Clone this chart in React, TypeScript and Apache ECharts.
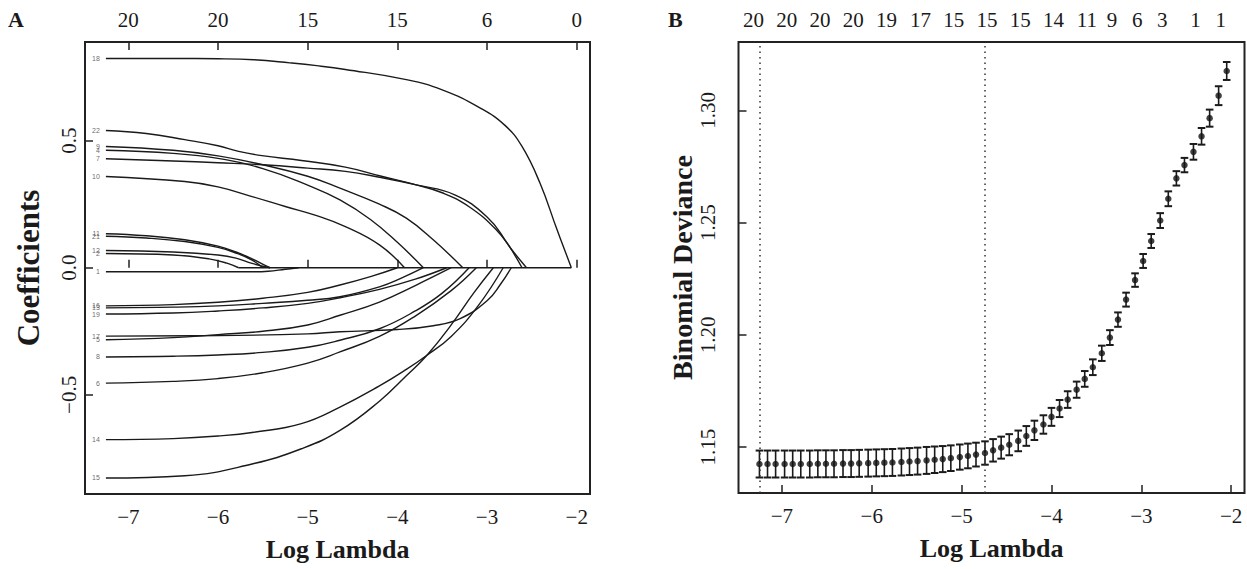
import React, { useEffect, useRef } from "react";
import * as echarts from "echarts";

// ---------- Panel B: cross-validation ----------
const logLambda = [
  -7.25, -7.16, -7.07, -6.97, -6.88, -6.79, -6.69, -6.6, -6.51, -6.42,
  -6.32, -6.23, -6.14, -6.04, -5.95, -5.86, -5.77, -5.67, -5.58, -5.49,
  -5.39, -5.3, -5.21, -5.12, -5.02, -4.93, -4.84, -4.74, -4.65, -4.56,
  -4.47, -4.37, -4.28, -4.19, -4.09, -4.0, -3.91, -3.82, -3.72, -3.63,
  -3.54, -3.44, -3.35, -3.26, -3.17, -3.07, -2.98, -2.89, -2.79, -2.7,
  -2.61, -2.52, -2.42, -2.33, -2.24, -2.14, -2.05,
];
const cvMean = [
  1.1425, 1.1425, 1.1425, 1.1425, 1.1425, 1.1425, 1.1425, 1.1426, 1.1426, 1.1426,
  1.1427, 1.1427, 1.1428, 1.1429, 1.143, 1.1431, 1.1432, 1.1434, 1.1436, 1.1438,
  1.1441, 1.1444, 1.1447, 1.1451, 1.1456, 1.1461, 1.1467, 1.1474, 1.1486, 1.1498,
  1.1511, 1.1528, 1.155, 1.1575, 1.1601, 1.1635, 1.1672, 1.1712, 1.1756, 1.1804,
  1.1856, 1.1918, 1.1988, 1.2068, 1.2157, 1.2244, 1.2329, 1.2418, 1.2509, 1.2606,
  1.2697, 1.2756, 1.2815, 1.2884, 1.2965, 1.3065, 1.3175,
];
const cvSd = [
  0.006, 0.006, 0.006, 0.006, 0.006, 0.006, 0.006, 0.006, 0.006, 0.006,
  0.006, 0.006, 0.006, 0.006, 0.006, 0.006, 0.006, 0.006, 0.006, 0.006,
  0.006, 0.0059, 0.0058, 0.0057, 0.0056, 0.0055, 0.0053, 0.0052, 0.005, 0.0049,
  0.0047, 0.0046, 0.0044, 0.0043, 0.0041, 0.004, 0.0038, 0.0037, 0.0036, 0.0035,
  0.0035, 0.0034, 0.0033, 0.0032, 0.0031, 0.003, 0.0031, 0.0031, 0.0033, 0.0033,
  0.0032, 0.0032, 0.0035, 0.0037, 0.0038, 0.0042, 0.004,
];
const nzeroIdx = [0, 4, 8, 12, 16, 20, 24, 28, 32, 36, 40, 43, 46, 49, 53, 56];
const nzeroLabels = ["20", "20", "20", "20", "19", "17", "15", "15", "15", "14", "11", "9", "6", "3", "1", "1"];
const lambdaMinIdx = 0;
const lambda1seIdx = 27;
const devTicks = [1.15, 1.2, 1.25, 1.3];

// ---------- Panel A: coefficient paths ----------
const xTicks = [-7, -6, -5, -4, -3, -2];
const pathTopLabels = ["20", "20", "15", "15", "6", "0"];
const coefTicks = [-0.5, 0, 0.5];
const lambdaEnd = -2.06;

const c18 = [[-7.25, 0.823], [-6.5, 0.823], [-6.0, 0.822], [-5.6, 0.818], [-5.2, 0.806], [-4.9, 0.795], [-4.58, 0.78], [-3.9, 0.74], [-3.5, 0.7], [-3.08, 0.629], [-2.8, 0.56], [-2.61, 0.477], [-2.41, 0.333], [-2.22, 0.15], [-2.06, 0]];
const c22 = [[-7.25, 0.54], [-6.8, 0.528], [-6.37, 0.504], [-6.0, 0.48], [-5.77, 0.458], [-5.51, 0.441], [-5.07, 0.422], [-4.58, 0.396], [-4.2, 0.362], [-3.79, 0.326], [-3.5, 0.295], [-3.2, 0.24], [-2.9, 0.15], [-2.7, 0.06], [-2.56, 0]];
const c9 = [[-7.25, 0.477], [-6.5, 0.462], [-6.0, 0.44], [-5.5, 0.405], [-5.0, 0.36], [-4.64, 0.313], [-4.2, 0.25], [-3.9, 0.195], [-3.6, 0.11], [-3.27, 0]];
const c4 = [[-7.25, 0.462], [-6.5, 0.45], [-6.0, 0.43], [-5.5, 0.39], [-5.0, 0.325], [-4.64, 0.267], [-4.3, 0.19], [-4.0, 0.1], [-3.71, 0]];
const c7 = [[-7.25, 0.429], [-6.5, 0.42], [-6.0, 0.413], [-5.5, 0.405], [-5.0, 0.392], [-4.58, 0.379], [-4.2, 0.356], [-3.79, 0.326], [-3.36, 0.287], [-3.0, 0.2], [-2.8, 0.11], [-2.61, 0]];
const c10 = [[-7.25, 0.359], [-6.37, 0.339], [-6.0, 0.318], [-5.62, 0.28], [-5.25, 0.241], [-4.9, 0.205], [-4.58, 0.162], [-4.2, 0.09], [-3.92, 0]];
const c11 = [[-7.25, 0.134], [-6.8, 0.126], [-6.37, 0.11], [-6.0, 0.085], [-5.8, 0.062], [-5.62, 0.035], [-5.48, 0.01], [-5.42, 0]];
const c21 = [[-7.25, 0.124], [-6.8, 0.117], [-6.37, 0.103], [-6.0, 0.08], [-5.8, 0.058], [-5.62, 0.03], [-5.5, 0]];
const c12 = [[-7.25, 0.068], [-6.5, 0.062], [-6.0, 0.05], [-5.8, 0.038], [-5.62, 0.017], [-5.42, 0]];
const c2 = [[-7.25, 0.056], [-6.5, 0.05], [-6.1, 0.035], [-5.9, 0.018], [-5.77, 0]];
const c1 = [[-7.25, -0.016], [-5.6, -0.016], [-5.44, -0.014], [-5.25, -0.006], [-5.1, 0]];
const c16 = [[-7.25, -0.15], [-6.5, -0.145], [-6.0, -0.136], [-5.5, -0.12], [-5.0, -0.097], [-4.64, -0.068], [-4.3, -0.035], [-4.0, 0]];
const c13 = [[-7.25, -0.158], [-6.5, -0.155], [-6.0, -0.15], [-5.5, -0.14], [-5.0, -0.128], [-4.64, -0.114], [-4.2, -0.075], [-3.95, -0.04], [-3.71, 0]];
const c19 = [[-7.25, -0.182], [-6.5, -0.178], [-6.0, -0.17], [-5.5, -0.158], [-5.0, -0.14], [-4.64, -0.118], [-4.2, -0.085], [-3.8, -0.045], [-3.45, 0]];
const c17 = [[-7.25, -0.269], [-6.0, -0.267], [-5.0, -0.26], [-4.64, -0.252], [-4.0, -0.243], [-3.6, -0.228], [-3.3, -0.2], [-3.0, -0.13], [-2.85, -0.065], [-2.73, 0]];
const c5 = [[-7.25, -0.283], [-6.5, -0.275], [-6.0, -0.263], [-5.5, -0.25], [-5.0, -0.225], [-4.64, -0.187], [-4.2, -0.135], [-3.8, -0.07], [-3.4, 0]];
const c8 = [[-7.25, -0.351], [-6.5, -0.348], [-6.0, -0.343], [-5.5, -0.333], [-5.0, -0.313], [-4.64, -0.285], [-4.2, -0.24], [-3.8, -0.17], [-3.5, -0.1], [-3.2, 0]];
const c6 = [[-7.25, -0.454], [-6.5, -0.447], [-6.0, -0.436], [-5.5, -0.413], [-5.0, -0.375], [-4.64, -0.331], [-4.2, -0.27], [-3.8, -0.19], [-3.4, -0.09], [-3.12, 0]];
const c14 = [[-7.25, -0.676], [-6.5, -0.672], [-6.0, -0.662], [-5.6, -0.647], [-5.07, -0.613], [-4.64, -0.548], [-4.2, -0.465], [-3.9, -0.4], [-3.67, -0.344], [-3.4, -0.27], [-3.1, -0.15], [-2.82, 0]];
const c15 = [[-7.25, -0.827], [-6.37, -0.818], [-5.62, -0.772], [-5.07, -0.712], [-4.64, -0.64], [-4.2, -0.525], [-3.9, -0.425], [-3.67, -0.344], [-3.4, -0.225], [-3.15, -0.1], [-2.93, 0]];

const paths: [string, number[][]][] = [
  ["18", c18], ["22", c22], ["9", c9], ["4", c4], ["7", c7], ["10", c10],
  ["11", c11], ["21", c21], ["12", c12], ["2", c2], ["1", c1],
  ["16", c16], ["13", c13], ["19", c19], ["17", c17], ["5", c5],
  ["8", c8], ["6", c6], ["14", c14], ["15", c15],
];

const SERIF = "'Liberation Serif', 'DejaVu Serif', serif";
const INK = "#1a1a1a";
const minus = (s: string) => s.replace("-", "\u2212");

export default function App() {
  const ref = useRef<HTMLDivElement>(null);
  useEffect(() => {
    if (!ref.current) return;
    const chart = echarts.init(ref.current, null, { renderer: "svg" });
    const xMin = -7.483;
    const xMax = -1.852;
    const tickLabel = { fontFamily: SERIF, fontSize: 21, color: INK };

    // each path is drawn (smoothly) until it reaches zero; the shared zero
    // segment afterwards is drawn once, from the first zero-crossing to the end
    const firstZero = Math.min(...paths.map(([, pts]) => pts[pts.length - 1][0]));
    const pathSeries: any[] = paths.map(([name, pts]) => ({
      type: "line",
      name: "V" + name,
      xAxisIndex: 0,
      yAxisIndex: 0,
      data: pts,
      showSymbol: false,
      smooth: 0.45,
      lineStyle: { color: INK, width: 1.4 },
      silent: true,
      z: 3,
    }));
    const zeroSeries = {
      type: "line",
      name: "zero",
      xAxisIndex: 0,
      yAxisIndex: 0,
      data: [[firstZero, 0], [lambdaEnd, 0]],
      showSymbol: false,
      lineStyle: { color: INK, width: 1.5 },
      silent: true,
      z: 3,
    };
    const labelSeries = {
      type: "scatter",
      xAxisIndex: 0,
      yAxisIndex: 0,
      symbolSize: 0,
      silent: true,
      data: paths.map(([name, pts]) => [pts[0][0], pts[0][1], name]),
      label: {
        show: true,
        position: "left",
        distance: 6,
        formatter: (p: any) => p.value[2],
        fontSize: 7,
        color: "#444",
        fontFamily: "'Liberation Sans', Arial, sans-serif",
      },
    };

    const barData = logLambda.map((x, i) => [x, cvMean[i] - cvSd[i], cvMean[i] + cvSd[i]]);
    const pointData = logLambda.map((x, i) => [x, cvMean[i]]);

    const option: any = {
      animation: false,
      backgroundColor: "#ffffff",
      grid: [
        { left: 85, top: 42, width: 505, height: 452, show: true, borderColor: "#222", borderWidth: 2 },
        { left: 738.5, top: 42, width: 506, height: 451, show: true, borderColor: "#222", borderWidth: 2 },
      ],
      xAxis: [
        {
          gridIndex: 0, type: "value", min: xMin, max: xMax, position: "bottom",
          axisLine: { show: false }, splitLine: { show: false },
          axisTick: { show: true, inside: true, length: 8, customValues: xTicks, lineStyle: { color: "#222", width: 1.5 } },
          axisLabel: { customValues: xTicks, margin: 12, formatter: (v: number) => minus(String(Math.round(v))), ...tickLabel },
          name: "Log Lambda", nameLocation: "middle", nameGap: 42,
          nameTextStyle: { fontFamily: SERIF, fontWeight: "bold", fontSize: 26, color: INK },
        },
        {
          gridIndex: 0, type: "value", min: xMin, max: xMax, position: "top",
          axisLine: { show: false }, splitLine: { show: false },
          axisTick: { show: true, inside: true, length: 8, customValues: xTicks, lineStyle: { color: "#222", width: 1.5 } },
          axisLabel: {
            customValues: xTicks, margin: 12,
            formatter: (v: number) => pathTopLabels[xTicks.indexOf(Math.round(v))] ?? "",
            ...tickLabel,
          },
        },
        {
          gridIndex: 1, type: "value", min: xMin, max: xMax, position: "bottom",
          axisLine: { show: false }, splitLine: { show: false },
          axisTick: { show: true, inside: true, length: 8, customValues: xTicks, lineStyle: { color: "#222", width: 1.5 } },
          axisLabel: { customValues: xTicks, margin: 12, formatter: (v: number) => minus(String(Math.round(v))), ...tickLabel },
          name: "Log Lambda", nameLocation: "middle", nameGap: 42,
          nameTextStyle: { fontFamily: SERIF, fontWeight: "bold", fontSize: 26, color: INK },
        },
        {
          gridIndex: 1, type: "value", min: xMin, max: xMax, position: "top",
          axisLine: { show: false }, splitLine: { show: false },
          axisTick: { show: false },
          axisLabel: {
            customValues: nzeroIdx.map((i) => logLambda[i]), margin: 12,
            padding: [0, 12, 0, 0],
            formatter: (v: number) => {
              const k = nzeroIdx.findIndex((i) => Math.abs(logLambda[i] - v) < 1e-6);
              return k >= 0 ? nzeroLabels[k] : "";
            },
            ...tickLabel,
          },
        },
      ],
      yAxis: [
        {
          gridIndex: 0, type: "value", min: -0.89, max: 0.888,
          axisLine: { show: false }, splitLine: { show: false },
          axisTick: { show: true, inside: true, length: 8, customValues: coefTicks, lineStyle: { color: "#222", width: 1.5 } },
          axisLabel: {
            customValues: coefTicks, rotate: 90, margin: 6,
            formatter: (v: number) => minus(v.toFixed(1)),
            ...tickLabel,
          },
          name: "Coefficients", nameLocation: "middle", nameGap: 41,
          nameTextStyle: { fontFamily: SERIF, fontWeight: "bold", fontSize: 31, color: INK },
        },
        {
          gridIndex: 1, type: "value", min: 1.1296, max: 1.3304,
          axisLine: { show: false }, splitLine: { show: false },
          axisTick: { show: true, inside: true, length: 8, customValues: devTicks, lineStyle: { color: "#222", width: 1.5 } },
          axisLabel: {
            customValues: devTicks, rotate: 90, margin: 20,
            formatter: (v: number) => v.toFixed(2),
            ...tickLabel,
          },
          name: "Binomial Deviance", nameLocation: "middle", nameGap: 41,
          nameTextStyle: { fontFamily: SERIF, fontWeight: "bold", fontSize: 28, color: INK },
        },
      ],
      graphic: [
        { type: "text", left: 8, top: 8, style: { text: "A", font: `bold 22px ${SERIF}`, fill: INK } },
        { type: "text", left: 668, top: 8, style: { text: "B", font: `bold 22px ${SERIF}`, fill: INK } },
      ],
      series: [
        ...pathSeries,
        zeroSeries,
        labelSeries,
        {
          type: "custom",
          name: "cvError",
          xAxisIndex: 2,
          yAxisIndex: 1,
          data: barData,
          encode: { x: 0, y: [1, 2] },
          silent: true,
          renderItem: (params: any, api: any) => {
            const x = api.value(0);
            const lo = api.coord([x, api.value(1)]);
            const hi = api.coord([x, api.value(2)]);
            const w = 3.8;
            const st = { stroke: INK, lineWidth: 1.6 };
            return {
              type: "group",
              children: [
                { type: "line", shape: { x1: lo[0], y1: lo[1], x2: hi[0], y2: hi[1] }, style: st },
                { type: "line", shape: { x1: lo[0] - w, y1: lo[1], x2: lo[0] + w, y2: lo[1] }, style: { ...st, lineWidth: 2 } },
                { type: "line", shape: { x1: hi[0] - w, y1: hi[1], x2: hi[0] + w, y2: hi[1] }, style: { ...st, lineWidth: 2 } },
              ],
            };
          },
          markLine: {
            silent: true,
            symbol: "none",
            label: { show: false },
            lineStyle: { type: [1.5, 4], color: "#333", width: 1.5 },
            data: [{ xAxis: logLambda[lambdaMinIdx] }, { xAxis: logLambda[lambda1seIdx] }],
          },
        },
        {
          type: "scatter",
          name: "cvMean",
          xAxisIndex: 2,
          yAxisIndex: 1,
          data: pointData,
          symbol: "circle",
          symbolSize: 6.5,
          itemStyle: { color: "#111" },
          silent: true,
          z: 4,
        },
      ],
    };
    chart.setOption(option);
    return () => chart.dispose();
  }, []);

  return (
    <div
      ref={ref}
      style={{ position: "absolute", left: 0, top: 0, width: 1247, height: 569, background: "#fff" }}
    />
  );
}
